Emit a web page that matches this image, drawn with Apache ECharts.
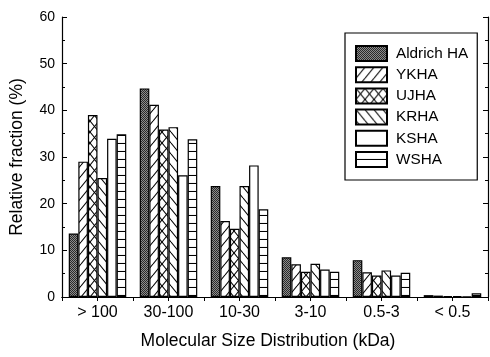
<!DOCTYPE html>
<html>
<head>
<meta charset="utf-8">
<script src="https://cdn.jsdelivr.net/npm/echarts@6/dist/echarts.min.js"></script>
<style>
html,body{margin:0;padding:0;background:#fff;}
#chart{width:490px;height:357px;}
</style>
</head>
<body>
<div id="chart"></div>
<script>
const categories = ['> 100', '30-100', '10-30', '3-10', '0.5-3', '< 0.5'];
const seriesNames = ['Aldrich HA', 'YKHA', 'UJHA', 'KRHA', 'KSHA', 'WSHA'];
const aldrich = [13.6, 44.7, 23.8, 8.5, 7.9, 0.4];
const ykha    = [29.0, 41.2, 16.3, 7.0, 5.3, 0.3];
const ujha    = [39.0, 35.9, 14.6, 5.4, 4.6, 0.2];
const krha    = [25.5, 36.4, 23.8, 7.1, 5.7, 0.2];
const ksha    = [33.9, 26.1, 28.2, 5.9, 4.6, 0.1];
const wsha    = [34.9, 33.8, 18.8, 5.4, 5.2, 0.8];
const yTicks  = [0, 10, 20, 30, 40, 50, 60];

function makePattern(kind) {
  const c = document.createElement('canvas');
  let w = 9, h = 11;
  if (kind === 'dots') { w = 2; h = 2; }
  if (kind === 'hlines') { w = 8; h = 8; }
  c.width = w; c.height = h;
  const g = c.getContext('2d');
  g.fillStyle = '#fff';
  g.fillRect(0, 0, w, h);
  g.strokeStyle = '#000';
  g.lineWidth = 1.1;
  function line(x1, y1, x2, y2) { g.beginPath(); g.moveTo(x1, y1); g.lineTo(x2, y2); g.stroke(); }
  function fwd() {
    line(0, h, w, 0);
    line(-w, h, 0, 0);
    line(w, h, 2 * w, 0);
  }
  function back() {
    line(0, 0, w, h);
    line(-w, 0, 0, h);
    line(w, 0, 2 * w, h);
  }
  if (kind === 'dots') {
    g.fillStyle = '#8c8c8c'; g.fillRect(0, 0, 2, 2);
    g.fillStyle = '#2a2a2a'; g.fillRect(0, 0, 1, 1); g.fillRect(1, 1, 1, 1);
  } else if (kind === 'fwd') {
    fwd();
  } else if (kind === 'back') {
    back();
  } else if (kind === 'cross') {
    fwd(); back();
  } else if (kind === 'hlines') {
    line(0, 7.5, w, 7.5);
  }
  return { image: c, repeat: 'repeat' };
}

const kinds = ['dots', 'fwd', 'cross', 'back', 'none', 'hlines'];
const dataSets = [aldrich, ykha, ujha, krha, ksha, wsha];
const font = 'Liberation Sans, Arial, Helvetica, sans-serif';

const series = seriesNames.map((name, i) => ({
  name: name,
  type: 'bar',
  data: dataSets[i],
  barGap: '0%',
  barCategoryGap: '19%',
  itemStyle: {
    color: kinds[i] === 'none' ? '#ffffff' : makePattern(kinds[i]),
    borderColor: '#000',
    borderWidth: 1.2
  },
  emphasis: { disabled: true }
}));

const chart = echarts.init(document.getElementById('chart'), null, { renderer: 'canvas' });
chart.setOption({
  animation: false,
  backgroundColor: '#fff',
  textStyle: { fontFamily: font, color: '#000' },
  grid: { left: 62, top: 17, right: 2, bottom: 60 },
  legend: {
    data: seriesNames,
    orient: 'vertical',
    left: 345,
    top: 33,
    itemWidth: 31,
    itemHeight: 15,
    itemGap: 4.2,
    padding: [12, 9, 12, 10],
    borderColor: '#000',
    borderWidth: 1.2,
    icon: 'rect',
    textStyle: { fontFamily: font, fontSize: 15.3, color: '#000', lineHeight: 16, padding: [0, 0, 0, 4] }
  },
  xAxis: [{
    type: 'category',
    data: categories,
    position: 'bottom',
    name: 'Molecular Size Distribution (kDa)',
    nameLocation: 'middle',
    nameGap: 35,
    nameTextStyle: { fontFamily: font, fontSize: 17.5, color: '#000', padding: [0, 14, 0, 0] },
    axisLine: { lineStyle: { color: '#000', width: 1.2 } },
    axisTick: { inside: true, length: 4, lineStyle: { color: '#000' } },
    axisLabel: { fontFamily: font, fontSize: 16, color: '#000', margin: 8 },
    splitLine: { show: false }
  }, {
    type: 'value',
    position: 'top',
    min: 0, max: 12, interval: 1,
    axisLine: { show: true, lineStyle: { color: '#000', width: 1.2 } },
    axisTick: { show: true, inside: true, length: 4, lineStyle: { color: '#000' } },
    axisLabel: { show: false },
    splitLine: { show: false }
  }],
  yAxis: [{
    type: 'value',
    min: yTicks[0], max: yTicks[yTicks.length - 1], interval: 10,
    name: 'Relative fraction (%)',
    nameLocation: 'middle',
    nameGap: 36,
    nameTextStyle: { fontFamily: font, fontSize: 17.5, color: '#000' },
    axisLine: { show: true, lineStyle: { color: '#000', width: 1.2 } },
    axisTick: { show: true, inside: true, length: 5, lineStyle: { color: '#000' } },
    minorTick: { show: true, splitNumber: 2, length: 3, lineStyle: { color: '#000' } },
    axisLabel: { fontFamily: font, fontSize: 14, color: '#000', margin: 7 },
    splitLine: { show: false }
  }, {
    type: 'value',
    position: 'right',
    min: yTicks[0], max: yTicks[yTicks.length - 1], interval: 10,
    axisLine: { show: true, lineStyle: { color: '#000', width: 1.2 } },
    axisTick: { show: true, inside: true, length: 5, lineStyle: { color: '#000' } },
    minorTick: { show: true, splitNumber: 2, length: 3, lineStyle: { color: '#000' } },
    axisLabel: { show: false },
    splitLine: { show: false }
  }],
  series: series
});
</script>
</body>
</html>
